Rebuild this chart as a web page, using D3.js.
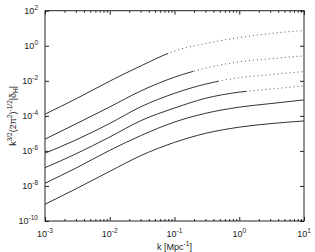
<!DOCTYPE html>
<html>
<head>
<meta charset="utf-8">
<script src="https://cdn.jsdelivr.net/npm/d3@7"></script>
<style>
  body { margin: 0; background: #fff; }
  text { font-family: "Liberation Sans", Arial, sans-serif; fill: #222; }
</style>
</head>
<body>
<div id="chart-area"></div>
<script>
// k grid [Mpc^-1] shared by all curves
const kValues = [0.001, 0.003, 0.01, 0.03, 0.1, 0.3, 1, 3, 10];

// curve values, top to bottom
const curve1 = [1.25e-4, 9.3e-4, 9.6e-3, 7.0e-2, 0.50, 1.34, 2.94, 4.98, 7.4];
const curve2 = [4.67e-6, 3.49e-5, 3.23e-4, 2.61e-3, 1.61e-2, 5.25e-2, 0.122, 0.181, 0.265];
const curve3 = [7.4e-7, 4.2e-6, 3.68e-5, 3.27e-4, 1.93e-3, 6.47e-3, 1.50e-2, 2.23e-2, 3.36e-2];
const curve4 = [1.10e-7, 6.75e-7, 6.22e-6, 5.25e-5, 2.79e-4, 1.0e-3, 2.26e-3, 3.36e-3, 5.12e-3];
const curve5 = [1.43e-8, 1.04e-7, 1.08e-6, 7.40e-6, 4.43e-5, 1.39e-4, 3.14e-4, 4.98e-4, 8.11e-4];
const curve6 = [9.0e-10, 6.82e-9, 6.82e-8, 5.32e-7, 3.06e-6, 1.0e-5, 2.26e-5, 3.58e-5, 5.12e-5];

// k where each curve turns from solid to dotted
const breakK = [0.08, 0.195, 0.47, 1.3, 10, 10];

const xTicks = [1e-3, 1e-2, 1e-1, 1e0, 1e1];
const yTicks = [1e-10, 1e-8, 1e-6, 1e-4, 1e-2, 1e0, 1e2];

const curves = [curve1, curve2, curve3, curve4, curve5, curve6];

var margin = {left: 45, right: 11, top: 10.7, bottom: 31};
var width = 315 - margin.left - margin.right;
var height = 252 - margin.top - margin.bottom;

var svg = d3.select("#chart-area")
    .append("svg")
        .attr("width", 315)
        .attr("height", 252);

var g = svg.append("g")
    .attr("transform", "translate(" + margin.left + "," + margin.top + ")");

// Scales
var x = d3.scaleLog().domain([1e-3, 10]).range([0, width]);
var y = d3.scaleLog().domain([1e-10, 1e2]).range([height, 0]);

// minor x ticks 2..9 in each decade
let xMinor = [];
for (let d = -3; d < 1; d++) {
    for (let m = 2; m <= 9; m++) xMinor.push(m * Math.pow(10, d));
}

function styleAxis(sel) {
    sel.select(".domain").remove();
    sel.selectAll("line").attr("stroke", "#222").attr("stroke-width", 1);
}

// inward ticks on all four sides
g.append("g").attr("transform", "translate(0," + height + ")")
    .call(d3.axisBottom(x).tickValues(xTicks).tickSize(-4).tickFormat("")).call(styleAxis);
g.append("g").attr("transform", "translate(0," + height + ")")
    .call(d3.axisBottom(x).tickValues(xMinor).tickSize(-2).tickFormat("")).call(styleAxis);
g.append("g")
    .call(d3.axisTop(x).tickValues(xTicks).tickSize(-4).tickFormat("")).call(styleAxis);
g.append("g")
    .call(d3.axisTop(x).tickValues(xMinor).tickSize(-2).tickFormat("")).call(styleAxis);
g.append("g")
    .call(d3.axisLeft(y).tickValues(yTicks).tickSize(-4).tickFormat("")).call(styleAxis);
g.append("g").attr("transform", "translate(" + width + ",0)")
    .call(d3.axisRight(y).tickValues(yTicks).tickSize(-4).tickFormat("")).call(styleAxis);

// frame
g.append("rect")
    .attr("width", width)
    .attr("height", height)
    .attr("fill", "none")
    .attr("stroke", "#222")
    .attr("stroke-width", 1);

function powLabel(sel, exp) {
    sel.append("tspan").text("10");
    sel.append("tspan").attr("dy", -4).attr("font-size", "6.5px").text(exp);
}

// tick labels
for (let t of xTicks) {
    let e = Math.round(Math.log10(t));
    g.append("text")
        .attr("x", x(t))
        .attr("y", height + 16)
        .attr("font-size", "9px")
        .attr("text-anchor", "middle")
        .call(powLabel, e < 0 ? "-" + (-e) : "" + e);
}
for (let t of yTicks) {
    let e = Math.round(Math.log10(t));
    g.append("text")
        .attr("x", -7)
        .attr("y", y(t) + 3.5)
        .attr("font-size", "9px")
        .attr("text-anchor", "end")
        .call(powLabel, e < 0 ? "-" + (-e) : "" + e);
}

// axis titles
var xLabel = g.append("text")
    .attr("x", width / 2)
    .attr("y", height + 29)
    .attr("font-size", "9px")
    .attr("text-anchor", "middle");
xLabel.append("tspan").text("k [Mpc");
xLabel.append("tspan").attr("dy", -4).attr("font-size", "6.5px").text("-1");
xLabel.append("tspan").attr("dy", 4).text("]");

var yLabel = svg.append("text")
    .attr("transform", "translate(15.5," + (margin.top + height / 2) + ") rotate(-90)")
    .attr("font-size", "9px")
    .attr("text-anchor", "middle");
yLabel.append("tspan").text("k");
yLabel.append("tspan").attr("dy", -4).attr("font-size", "6.5px").text("3/2");
yLabel.append("tspan").attr("dy", 4).text("(2π");
yLabel.append("tspan").attr("dy", -4).attr("font-size", "6.5px").text("2");
yLabel.append("tspan").attr("dy", 4).text(")");
yLabel.append("tspan").attr("dy", -4).attr("font-size", "6.5px").text("-1/2");
yLabel.append("tspan").attr("dy", 4).text("|δ");
yLabel.append("tspan").attr("dy", 2).attr("font-size", "6.5px").text("H");
yLabel.append("tspan").attr("dy", -2).text("|");

// curves: solid part up to breakK, dotted beyond
var line = d3.line()
    .x(d => x(d[0]))
    .y(d => y(d[1]))
    .curve(d3.curveMonotoneX);

var defs = svg.append("defs");

curves.forEach(function(vals, i) {
    let pts = kValues.map((k, j) => [k, vals[j]]);
    let xb = x(breakK[i]);

    defs.append("clipPath").attr("id", "solid" + i)
        .append("rect").attr("x", 0).attr("y", 0).attr("width", xb).attr("height", height);
    defs.append("clipPath").attr("id", "dot" + i)
        .append("rect").attr("x", xb).attr("y", 0).attr("width", Math.max(width - xb, 0)).attr("height", height);

    g.append("path")
        .attr("d", line(pts))
        .attr("fill", "none")
        .attr("stroke", "#333")
        .attr("stroke-width", 1)
        .attr("clip-path", "url(#solid" + i + ")");

    if (breakK[i] < 10) {
        g.append("path")
            .attr("d", line(pts))
            .attr("fill", "none")
            .attr("stroke", "#555")
            .attr("stroke-width", 1)
            .attr("stroke-dasharray", "1,3")
            .attr("clip-path", "url(#dot" + i + ")");
    }
});
</script>
</body>
</html>
